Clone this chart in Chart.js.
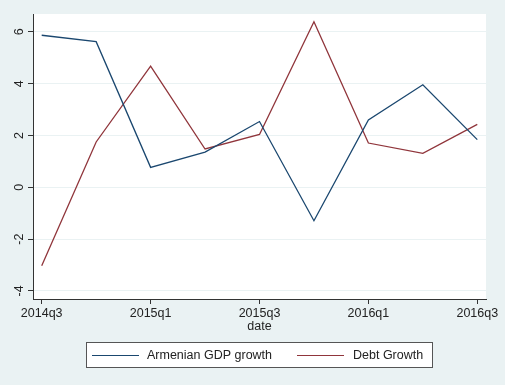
<!DOCTYPE html>
<html>
<head>
<meta charset="utf-8">
<script src="https://cdn.jsdelivr.net/npm/chart.js@4/dist/chart.umd.min.js"></script>
<style>
  html, body { margin: 0; padding: 0; background: #eaf2f3; }
  canvas { display: block; }
</style>
</head>
<body>
<canvas id="c" width="505" height="385"></canvas>
<script>
// Quarterly series
const quarters = ['2014q3', '2014q4', '2015q1', '2015q2', '2015q3', '2015q4', '2016q1', '2016q2', '2016q3'];
const gdpGrowth = [5.87, 5.62, 0.77, 1.36, 2.54, -1.29, 2.60, 3.96, 1.84];
const debtGrowth = [-3.03, 1.75, 4.68, 1.48, 2.04, 6.39, 1.71, 1.31, 2.43];
const seriesNames = ['Armenian GDP growth', 'Debt Growth'];
const yTicks = [-4, -2, 0, 2, 4, 6];
const xTickIdx = [0, 2, 4, 6, 8];
const xTitle = 'date';

const FONT = '"Liberation Sans", Arial, Helvetica, sans-serif';
const NAVY = '#1a476f';
const MAROON = '#90353b';
const BG = '#eaf2f3';
const INK = '#222';

// Background, white plot region, rotated y labels, axis title and boxed legend
const stataLook = {
  id: 'stataLook',
  beforeDraw(chart) {
    const { ctx, chartArea: a } = chart;
    ctx.save();
    ctx.fillStyle = BG;
    ctx.fillRect(0, 0, chart.width, chart.height);
    ctx.fillStyle = '#ffffff';
    ctx.fillRect(a.left, a.top, a.right - a.left, a.bottom - a.top);
    ctx.restore();
  },
  afterDraw(chart) {
    const { ctx, chartArea: a } = chart;
    const ys = chart.scales.y;
    ctx.save();
    ctx.fillStyle = INK;
    ctx.font = '12.5px ' + FONT;
    ctx.textAlign = 'center';
    ctx.textBaseline = 'middle';
    yTicks.forEach(v => {
      const py = ys.getPixelForValue(v);
      ctx.save();
      ctx.translate(19.5, py);
      ctx.rotate(-Math.PI / 2);
      ctx.fillText(String(v), 0, 0);
      ctx.restore();
    });
    // x axis title
    ctx.fillText(xTitle, (a.left + a.right) / 2, 327);

    // legend
    const bx = 86.5, by = 342.5, bw = 346, bh = 25;
    ctx.fillStyle = '#ffffff';
    ctx.fillRect(bx, by, bw, bh);
    ctx.strokeStyle = '#555';
    ctx.lineWidth = 1;
    ctx.strokeRect(bx, by, bw, bh);
    const ly = 355.5;
    const entries = [
      { x0: 92, x1: 139, tx: 147, color: NAVY, label: chart.data.datasets[0].label },
      { x0: 297, x1: 344, tx: 353, color: MAROON, label: chart.data.datasets[1].label }
    ];
    entries.forEach(e => {
      ctx.strokeStyle = e.color;
      ctx.lineWidth = 1.2;
      ctx.beginPath();
      ctx.moveTo(e.x0, ly);
      ctx.lineTo(e.x1, ly);
      ctx.stroke();
      ctx.fillStyle = INK;
      ctx.textAlign = 'left';
      ctx.fillText(e.label, e.tx, ly + 0.5);
    });
    ctx.restore();
  }
};

const toPoints = arr => arr.map((v, i) => ({ x: i, y: v }));

new Chart(document.getElementById('c'), {
  type: 'line',
  data: {
    datasets: [
      { label: seriesNames[0], data: toPoints(gdpGrowth), borderColor: NAVY, borderWidth: 1.3,
        pointRadius: 0, tension: 0, fill: false },
      { label: seriesNames[1], data: toPoints(debtGrowth), borderColor: MAROON, borderWidth: 1.3,
        pointRadius: 0, tension: 0, fill: false }
    ]
  },
  options: {
    responsive: false,
    animation: false,
    events: [],
    layout: { padding: { top: 14, right: 19, left: 0, bottom: 0 } },
    plugins: { legend: { display: false }, tooltip: { enabled: false } },
    scales: {
      x: {
        type: 'linear',
        min: -0.16,
        max: 8.16,
        afterBuildTicks: s => { s.ticks = xTickIdx.map(v => ({ value: v })); },
        afterFit: s => { s.height = 86; },
        grid: { drawOnChartArea: false, drawTicks: true, tickLength: 5, tickColor: '#333' },
        border: { color: '#333', width: 1 },
        ticks: {
          color: INK,
          font: { family: FONT, size: 12.5 },
          padding: 2,
          maxRotation: 0,
          autoSkip: false,
          callback: v => quarters[v]
        }
      },
      y: {
        min: -4.31,
        max: 6.69,
        afterBuildTicks: s => { s.ticks = yTicks.map(v => ({ value: v })); },
        afterFit: s => { s.width = 33; },
        grid: { color: BG, lineWidth: 1, drawTicks: true, tickLength: 5, tickColor: '#333' },
        border: { color: '#333', width: 1 },
        ticks: { display: false }
      }
    }
  },
  plugins: [stataLook]
});
</script>
</body>
</html>
